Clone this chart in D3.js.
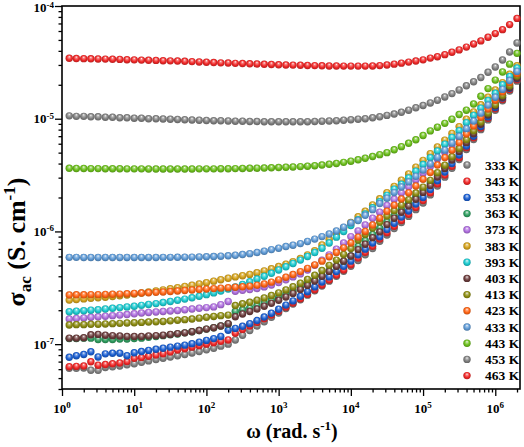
<!DOCTYPE html>
<html><head><meta charset="utf-8">
<script src="https://cdn.jsdelivr.net/npm/d3@7"></script>
<style>
body{margin:0;background:#fff}
text{font-family:"Liberation Serif","Times New Roman",serif;font-weight:bold;fill:#000}
</style>
</head><body>
<svg id="c" width="524" height="447"></svg>
<script>
// angular frequency (rad/s)
const omega = [1.26,1.58,2,2.51,3.16,3.98,5.01,6.31,7.94,10,
12.6,15.8,20,25.1,31.6,39.8,50.1,63.1,79.4,100,
126,158,200,251,316,398,501,631,794,1000,
1260,1580,2000,2510,3160,3980,5010,6310,7940,10000,
12600,15800,20000,25100,31600,39800,50100,63100,79400,100000,
126000,158000,200000,251000,316000,398000,501000,631000,794000,1000000,
1260000,1580000,2000000];

const temps = ["333 K","343 K","353 K","363 K","373 K","383 K","393 K","403 K","413 K","423 K","433 K","443 K","453 K","463 K"];
const colors = ["#808080","#f02828","#1b5fd2","#2f9e60","#b070e0","#d4a21c","#1ccad0","#6b3c3c","#8c8c12","#ff6414","#5e9ad6","#6cbf1c","#808080","#f02828"];

const s333 = [6.10e-8,6.10e-8,6.15e-8,5.86e-8,5.86e-8,6.20e-8,6.30e-8,6.40e-8,6.55e-8,6.70e-8,
6.90e-8,7.10e-8,7.30e-8,7.50e-8,7.70e-8,7.90e-8,8.10e-8,8.35e-8,8.60e-8,8.90e-8,
9.20e-8,9.60e-8,10.0e-8,10.9e-8,12.0e-8,13.2e-8,14.5e-8,15.8e-8,17.3e-8,18.9e-8,
20.7e-8,22.7e-8,24.8e-8,27.2e-8,29.8e-8,32.8e-8,36.2e-8,40.0e-8,44.3e-8,49.0e-8,
55.3e-8,62.1e-8,70.4e-8,81.9e-8,92.9e-8,106e-8,120e-8,136e-8,156e-8,179e-8,
211e-8,253e-8,303e-8,363e-8,434e-8,534e-8,654e-8,800e-8,976e-8,1187e-8,
1441e-8,1763e-8,2154e-8];
const s343 = [6.31e-8,6.35e-8,6.40e-8,6.98e-8,6.50e-8,6.60e-8,6.70e-8,6.80e-8,7.00e-8,7.48e-8,
7.6e-8,7.8e-8,8.0e-8,8.2e-8,8.5e-8,8.87e-8,9.1e-8,9.4e-8,9.7e-8,10.0e-8,
10.3e-8,10.6e-8,10.9e-8,12.5e-8,13.5e-8,14.5e-8,15.6e-8,16.8e-8,18.1e-8,19.6e-8,
21.3e-8,23.2e-8,25.3e-8,27.7e-8,30.4e-8,33.5e-8,37.0e-8,41.0e-8,45.5e-8,50.5e-8,
58.0e-8,65.1e-8,73.9e-8,85.8e-8,97.4e-8,111e-8,125e-8,142e-8,163e-8,188e-8,
220e-8,264e-8,316e-8,378e-8,451e-8,554e-8,677e-8,827e-8,1007e-8,1223e-8,
1483e-8,1813e-8,2213e-8];
const s353 = [7.64e-8,7.9e-8,8.1e-8,8.57e-8,7.7e-8,8.2e-8,8.3e-8,8.3e-8,7.9e-8,8.4e-8,
8.6e-8,8.8e-8,9.0e-8,9.2e-8,9.4e-8,9.6e-8,9.8e-8,10.1e-8,10.4e-8,10.8e-8,
11.2e-8,11.7e-8,13.3e-8,13.8e-8,14.4e-8,15.2e-8,16.2e-8,17.4e-8,18.8e-8,20.4e-8,
22.2e-8,24.2e-8,26.6e-8,29.2e-8,32.2e-8,35.6e-8,39.5e-8,44.0e-8,49.0e-8,54.5e-8,
62.1e-8,69.6e-8,79.0e-8,89.7e-8,104e-8,118e-8,134e-8,152e-8,175e-8,200e-8,
235e-8,281e-8,336e-8,400e-8,477e-8,573e-8,700e-8,854e-8,1038e-8,1259e-8,
1525e-8,1862e-8,2272e-8];
const s363 = [1.12e-7,1.12e-7,1.13e-7,1.13e-7,1.10e-7,1.10e-7,1.10e-7,1.11e-7,1.11e-7,1.12e-7,
1.13e-7,1.15e-7,1.17e-7,1.19e-7,1.21e-7,1.23e-7,1.26e-7,1.29e-7,1.32e-7,1.36e-7,
1.40e-7,1.45e-7,1.51e-7,1.95e-7,2.02e-7,2.10e-7,2.20e-7,2.32e-7,2.45e-7,2.60e-7,
2.77e-7,2.96e-7,3.18e-7,3.43e-7,3.72e-7,4.05e-7,4.45e-7,4.92e-7,5.45e-7,6.05e-7,
7.4e-7,8.3e-7,9.4e-7,10.7e-7,12.2e-7,13.8e-7,15.7e-7,17.8e-7,20.4e-7,23.5e-7,
26.9e-7,32.1e-7,38.1e-7,45.2e-7,53.6e-7,64.3e-7,76.9e-7,93.4e-7,112e-7,135e-7,
161e-7,199e-7,242e-7];
const s373 = [1.67e-7,1.69e-7,1.71e-7,1.73e-7,1.75e-7,1.77e-7,1.79e-7,1.81e-7,1.83e-7,1.86e-7,
1.89e-7,1.91e-7,1.93e-7,1.95e-7,1.97e-7,1.99e-7,2.02e-7,2.05e-7,2.08e-7,2.11e-7,
2.14e-7,2.24e-7,2.39e-7,2.95e-7,3.00e-7,3.05e-7,3.12e-7,3.22e-7,3.35e-7,3.52e-7,
3.72e-7,3.95e-7,4.20e-7,4.55e-7,5.00e-7,5.55e-7,6.20e-7,6.95e-7,7.90e-7,9.00e-7,
10.1e-7,11.4e-7,13.1e-7,14.8e-7,17.0e-7,19.3e-7,22.0e-7,24.9e-7,28.6e-7,32.8e-7,
37.7e-7,43.9e-7,50.4e-7,58.6e-7,68.1e-7,79.1e-7,93.0e-7,109e-7,129e-7,153e-7,
180e-7,216e-7,260e-7];
const s383 = [2.46e-7,2.49e-7,2.52e-7,2.55e-7,2.58e-7,2.61e-7,2.65e-7,2.69e-7,2.73e-7,2.78e-7,
2.84e-7,2.90e-7,2.96e-7,3.03e-7,3.10e-7,3.17e-7,3.25e-7,3.33e-7,3.42e-7,3.51e-7,
3.62e-7,3.73e-7,3.84e-7,3.95e-7,4.05e-7,4.15e-7,4.30e-7,4.47e-7,4.66e-7,4.88e-7,
5.12e-7,5.40e-7,5.75e-7,6.20e-7,6.75e-7,7.59e-7,8.51e-7,9.55e-7,10.7e-7,12.0e-7,
13.5e-7,15.1e-7,17.2e-7,19.5e-7,22.1e-7,25.1e-7,28.5e-7,32.4e-7,37.2e-7,42.7e-7,
49.0e-7,56.2e-7,64.6e-7,74.1e-7,85.1e-7,98.9e-7,115e-7,133e-7,155e-7,180e-7,
209e-7,248e-7,295e-7];
const s393 = [1.94e-7,1.96e-7,1.98e-7,2.00e-7,2.02e-7,2.05e-7,2.08e-7,2.11e-7,2.14e-7,2.17e-7,
2.21e-7,2.25e-7,2.29e-7,2.34e-7,2.39e-7,2.45e-7,2.51e-7,2.58e-7,2.66e-7,2.75e-7,
2.85e-7,2.96e-7,3.08e-7,3.21e-7,3.38e-7,3.58e-7,3.78e-7,4.00e-7,4.25e-7,4.55e-7,
4.86e-7,5.20e-7,5.57e-7,6.00e-7,6.50e-7,7.10e-7,7.90e-7,8.90e-7,10.0e-7,11.3e-7,
12.7e-7,14.3e-7,16.2e-7,18.4e-7,20.9e-7,23.7e-7,26.2e-7,29.8e-7,34.2e-7,39.2e-7,
45.1e-7,51.7e-7,59.4e-7,68.2e-7,78.3e-7,92.2e-7,107e-7,124e-7,145e-7,168e-7,
200e-7,237e-7,282e-7];
const s403 = [1.13e-7,1.13e-7,1.14e-7,1.21e-7,1.22e-7,1.20e-7,1.19e-7,1.18e-7,1.17e-7,1.17e-7,
1.17e-7,1.18e-7,1.19e-7,1.20e-7,1.22e-7,1.24e-7,1.26e-7,1.29e-7,1.32e-7,1.36e-7,
1.40e-7,1.45e-7,1.52e-7,1.75e-7,1.85e-7,1.95e-7,2.05e-7,2.17e-7,2.30e-7,2.45e-7,
2.62e-7,2.82e-7,3.05e-7,3.32e-7,3.63e-7,4.00e-7,4.42e-7,4.90e-7,5.45e-7,6.05e-7,
6.9e-7,7.7e-7,8.8e-7,9.9e-7,11.5e-7,13.1e-7,14.8e-7,16.8e-7,19.3e-7,22.2e-7,
25.5e-7,30.4e-7,36.2e-7,43.0e-7,51.1e-7,61.3e-7,73.5e-7,89.4e-7,108e-7,130e-7,
155e-7,189e-7,230e-7];
const s413 = [1.48e-7,1.49e-7,1.49e-7,1.50e-7,1.50e-7,1.51e-7,1.52e-7,1.53e-7,1.54e-7,1.55e-7,
1.56e-7,1.57e-7,1.58e-7,1.59e-7,1.61e-7,1.63e-7,1.65e-7,1.67e-7,1.70e-7,1.73e-7,
1.76e-7,1.79e-7,1.81e-7,2.20e-7,2.28e-7,2.35e-7,2.45e-7,2.57e-7,2.70e-7,2.85e-7,
3.03e-7,3.23e-7,3.47e-7,3.75e-7,4.08e-7,4.50e-7,5.00e-7,5.57e-7,6.25e-7,7.05e-7,
8.4e-7,9.4e-7,10.7e-7,12.1e-7,13.7e-7,15.3e-7,17.1e-7,19.1e-7,21.9e-7,24.7e-7,
28.4e-7,33.2e-7,38.7e-7,46.0e-7,54.5e-7,65.2e-7,78.1e-7,93.4e-7,112e-7,133e-7,
161e-7,196e-7,239e-7];
const s423 = [2.73e-7,2.74e-7,2.74e-7,2.75e-7,2.75e-7,2.76e-7,2.77e-7,2.78e-7,2.80e-7,2.82e-7,
2.84e-7,2.86e-7,2.88e-7,2.90e-7,2.93e-7,2.96e-7,2.99e-7,3.02e-7,3.05e-7,3.08e-7,
3.11e-7,3.14e-7,3.17e-7,3.20e-7,3.23e-7,3.27e-7,3.33e-7,3.42e-7,3.55e-7,3.72e-7,
3.92e-7,4.15e-7,4.40e-7,4.70e-7,5.05e-7,5.45e-7,5.95e-7,6.50e-7,7.15e-7,7.90e-7,
8.9e-7,10.0e-7,11.4e-7,13.1e-7,15.1e-7,17.1e-7,19.4e-7,22.0e-7,25.3e-7,29.0e-7,
33.3e-7,38.8e-7,45.2e-7,52.6e-7,61.3e-7,73.2e-7,86.1e-7,103e-7,122e-7,146e-7,
173e-7,209e-7,251e-7];
const s433 = [5.89e-7,5.89e-7,5.88e-7,5.88e-7,5.88e-7,5.88e-7,5.88e-7,5.88e-7,5.88e-7,5.88e-7,
5.88e-7,5.88e-7,5.88e-7,5.89e-7,5.89e-7,5.90e-7,5.91e-7,5.92e-7,5.94e-7,5.96e-7,
5.99e-7,6.03e-7,6.08e-7,6.15e-7,6.24e-7,6.35e-7,6.50e-7,6.68e-7,6.90e-7,7.10e-7,
7.35e-7,7.55e-7,7.80e-7,8.15e-7,8.55e-7,9.00e-7,9.50e-7,10.1e-7,10.9e-7,11.9e-7,
12.5e-7,13.9e-7,15.6e-7,17.7e-7,19.7e-7,22.1e-7,24.8e-7,27.5e-7,30.8e-7,35.0e-7,
39.7e-7,45.5e-7,52.6e-7,60.8e-7,69.8e-7,81.6e-7,95.3e-7,112e-7,132e-7,155e-7,
182e-7,218e-7,263e-7];
const s443 = [3.63e-6,3.62e-6,3.62e-6,3.61e-6,3.61e-6,3.60e-6,3.60e-6,3.60e-6,3.59e-6,3.59e-6,
3.59e-6,3.58e-6,3.58e-6,3.58e-6,3.58e-6,3.58e-6,3.58e-6,3.58e-6,3.59e-6,3.59e-6,
3.59e-6,3.60e-6,3.60e-6,3.61e-6,3.62e-6,3.63e-6,3.64e-6,3.65e-6,3.67e-6,3.69e-6,
3.71e-6,3.73e-6,3.76e-6,3.79e-6,3.83e-6,3.88e-6,3.94e-6,4.01e-6,4.10e-6,4.20e-6,
4.32e-6,4.46e-6,4.62e-6,4.80e-6,5.00e-6,5.30e-6,5.65e-6,6.05e-6,6.50e-6,7.10e-6,
7.80e-6,8.40e-6,9.10e-6,9.90e-6,10.9e-6,11.9e-6,13.5e-6,15.8e-6,18.5e-6,22.0e-6,
26.0e-6,30.5e-6,38.0e-6];
const s453 = [1.06e-5,1.05e-5,1.05e-5,1.04e-5,1.04e-5,1.03e-5,1.03e-5,1.02e-5,1.02e-5,1.01e-5,
1.01e-5,1.00e-5,1.00e-5,0.995e-5,0.99e-5,0.985e-5,0.98e-5,0.975e-5,0.97e-5,0.965e-5,
0.96e-5,0.96e-5,0.955e-5,0.95e-5,0.95e-5,0.945e-5,0.945e-5,0.94e-5,0.94e-5,0.94e-5,
0.94e-5,0.94e-5,0.94e-5,0.94e-5,0.945e-5,0.95e-5,0.955e-5,0.96e-5,0.97e-5,0.98e-5,
0.99e-5,1.00e-5,1.02e-5,1.04e-5,1.07e-5,1.10e-5,1.14e-5,1.19e-5,1.25e-5,1.31e-5,
1.38e-5,1.46e-5,1.56e-5,1.67e-5,1.80e-5,1.96e-5,2.13e-5,2.32e-5,2.58e-5,2.88e-5,
3.32e-5,3.91e-5,4.70e-5];
const s463 = [3.44e-5,3.42e-5,3.41e-5,3.40e-5,3.39e-5,3.38e-5,3.37e-5,3.36e-5,3.34e-5,3.33e-5,
3.31e-5,3.30e-5,3.29e-5,3.27e-5,3.26e-5,3.25e-5,3.23e-5,3.21e-5,3.19e-5,3.17e-5,
3.15e-5,3.13e-5,3.12e-5,3.10e-5,3.09e-5,3.07e-5,3.06e-5,3.04e-5,3.03e-5,3.01e-5,
3.00e-5,2.99e-5,2.98e-5,2.97e-5,2.96e-5,2.95e-5,2.94e-5,2.94e-5,2.93e-5,2.93e-5,
2.93e-5,2.93e-5,2.94e-5,2.96e-5,3.00e-5,3.05e-5,3.11e-5,3.18e-5,3.25e-5,3.33e-5,
3.45e-5,3.55e-5,3.70e-5,3.89e-5,4.08e-5,4.32e-5,4.60e-5,4.90e-5,5.28e-5,5.69e-5,
6.17e-5,6.84e-5,7.76e-5];

const seriesValues = [s333,s343,s353,s363,s373,s383,s393,s403,s413,s423,s433,s443,s453,s463];

const xTicks = [1,10,100,1000,10000,100000,1000000];
const xTickExp = ["0","1","2","3","4","5","6"];
const yTicks = [1e-7,1e-6,1e-5,1e-4];
const yTickExp = ["-7","-6","-5","-4"];

const Lp=62, Rp=520, Tp=6, Bp=389;
const svg = d3.select("#c");
svg.append("rect").attr("width",524).attr("height",447).attr("fill","#fff");
const x = d3.scaleLog().domain([1,2.2e6]).range([Lp,Rp]);
const y = d3.scaleLog().domain([4e-8,1e-4]).range([Bp,Tp]);

const defs = svg.append("defs");
colors.forEach((c,i)=>{
  const g = defs.append("radialGradient").attr("id","g"+i)
    .attr("cx","50%").attr("cy","50%").attr("r","55%").attr("fx","50%").attr("fy","28%");
  g.append("stop").attr("offset","0%").attr("stop-color","#ffffff");
  g.append("stop").attr("offset","22%").attr("stop-color",d3.interpolateRgb(c,"#fff")(0.45));
  g.append("stop").attr("offset","60%").attr("stop-color",c);
  g.append("stop").attr("offset","100%").attr("stop-color",d3.color(c).darker(0.9));
});

// axes
const xMinor = x.ticks().filter(v=>!xTicks.includes(v));
const yMinor = y.ticks().filter(v=>!yTicks.some(t=>Math.abs(t-v)/t<1e-6));
function styleAxis(g){ g.select(".domain").remove(); g.selectAll("line").attr("stroke","#000").attr("stroke-width",1.3); }
svg.append("g").attr("transform",`translate(0,${Bp})`).call(d3.axisBottom(x).tickValues(xMinor).tickSize(3.5).tickFormat("")).call(styleAxis);
svg.append("g").attr("transform",`translate(0,${Bp})`).call(d3.axisBottom(x).tickValues(xTicks).tickSize(7).tickFormat("")).call(styleAxis);
svg.append("g").attr("transform",`translate(${Lp},0)`).call(d3.axisLeft(y).tickValues(yMinor).tickSize(3.5).tickFormat("")).call(styleAxis);
svg.append("g").attr("transform",`translate(${Lp},0)`).call(d3.axisLeft(y).tickValues(yTicks).tickSize(7).tickFormat("")).call(styleAxis);

xTicks.forEach((v,i)=>{
  const t = svg.append("text").attr("x",x(v)).attr("y",413).attr("text-anchor","middle").attr("font-size",13);
  t.append("tspan").text("10");
  t.append("tspan").attr("dy",-5).attr("font-size",9).text(xTickExp[i]);
});
yTicks.forEach((v,i)=>{
  const t = svg.append("text").attr("x",54).attr("y",Math.max(y(v)+4.5,12)).attr("text-anchor","end").attr("font-size",13);
  t.append("tspan").text("10");
  t.append("tspan").attr("dy",-4.5).attr("font-size",9).text(yTickExp[i]);
});

// frame
svg.append("rect").attr("x",Lp).attr("y",Tp).attr("width",Rp-Lp).attr("height",Bp-Tp)
  .attr("fill","none").attr("stroke","#000").attr("stroke-width",1.6);

// data
seriesValues.forEach((vals,si)=>{
  svg.append("g").selectAll("circle").data(vals).join("circle")
    .attr("cx",(d,i)=>x(omega[i])).attr("cy",d=>y(d)).attr("r",3.7)
    .attr("fill",`url(#g${si})`);
});

// legend
temps.forEach((t,i)=>{
  const cy = 165 + i*16.2;
  svg.append("circle").attr("cx",467).attr("cy",cy).attr("r",3.7).attr("fill",`url(#g${i})`);
  svg.append("text").attr("x",485).attr("y",cy+4.5).attr("font-size",13.5).text(t);
});

// axis titles
const xt = svg.append("text").attr("x",292).attr("y",438).attr("text-anchor","middle").attr("font-size",20);
xt.append("tspan").text("ω (rad. s");
xt.append("tspan").attr("dy",-8).attr("font-size",13).text("-1");
xt.append("tspan").attr("dy",8).text(")");

const yt = svg.append("text").attr("transform","translate(25,242) rotate(-90)").attr("text-anchor","middle").attr("font-size",26);
yt.append("tspan").text("σ");
yt.append("tspan").attr("dy",6).attr("font-size",17).text("ac");
yt.append("tspan").attr("dy",-6).text(" (S. cm");
yt.append("tspan").attr("dy",-10).attr("font-size",17).text("-1");
yt.append("tspan").attr("dy",10).text(")");
</script>
</body></html>
